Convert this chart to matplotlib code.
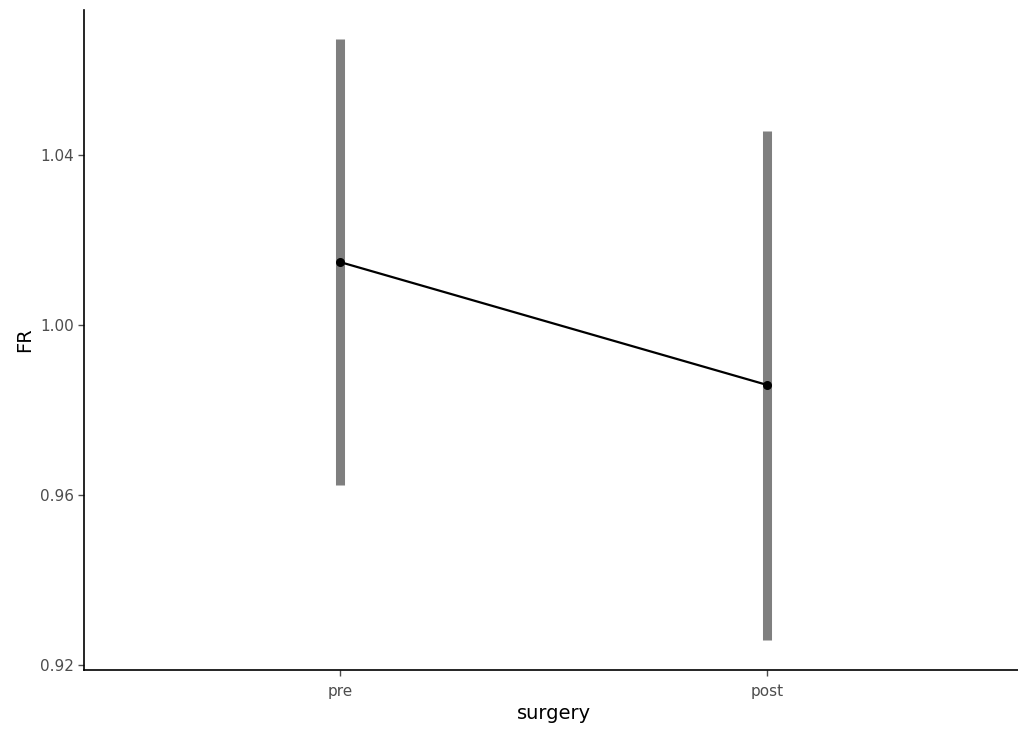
import numpy as np
import matplotlib.pyplot as plt

categories = ["pre", "post"]
fr_mean = [1.0148, 0.9859]
fr_lower = [0.9624, 0.9259]
fr_upper = [1.0673, 1.0456]
y_ticks = [0.92, 0.96, 1.00, 1.04]

fig = plt.figure(figsize=(10.18, 7.31), dpi=100)
ax = fig.add_axes([0.0825, 0.0834, 0.9225, 0.9029])

x = np.arange(1, len(categories) + 1)
ax.vlines(x, fr_lower, fr_upper, color="#7f7f7f", linewidth=6.5, zorder=1)
ax.plot(x, fr_mean, color="black", linewidth=1.6, zorder=2)
ax.scatter(x, fr_mean, color="black", s=30, zorder=3)

ax.set_xlim(0.4, 2.6)
ax.set_ylim(0.91882, 1.0741)
ax.set_xticks(x)
ax.set_xticklabels(categories)
ax.set_yticks(y_ticks)
ax.set_yticklabels(["%.2f" % v for v in y_ticks])

for s in ["top", "right"]:
    ax.spines[s].set_visible(False)
for s in ["left", "bottom"]:
    ax.spines[s].set_linewidth(1.2)
ax.tick_params(colors="#4d4d4d", labelsize=11, length=4, width=1.0)
ax.tick_params(axis="x", pad=6)
ax.set_xlabel("surgery", fontsize=14)
ax.set_ylabel("FR", fontsize=14)

plt.savefig("out.png", dpi=100)
